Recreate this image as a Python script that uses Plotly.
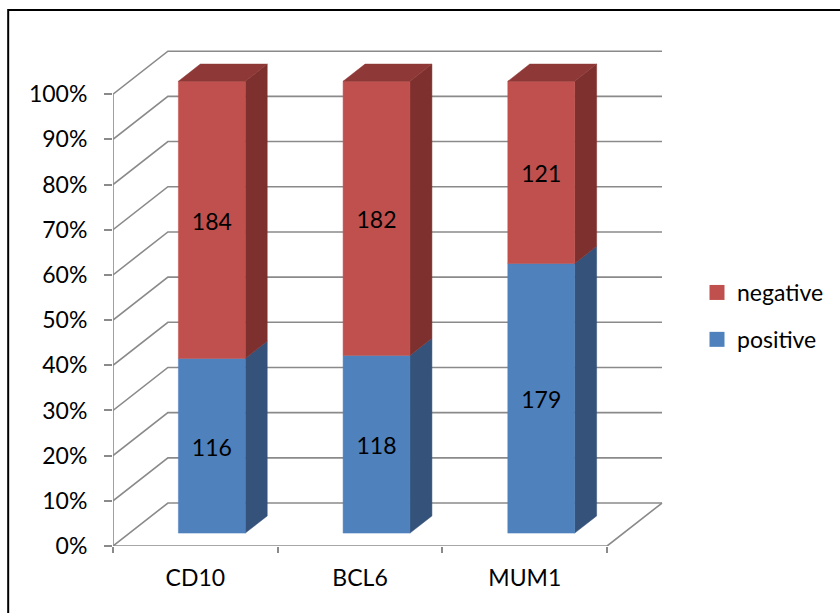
import plotly.graph_objects as go

# ---- data ----
categories = ["CD10", "BCL6", "MUM1"]
positive = [116, 118, 179]
negative = [184, 182, 121]
series_names = ["positive", "negative"]
y_tick_values = [0, 0.1, 0.2, 0.3, 0.4, 0.5, 0.6, 0.7, 0.8, 0.9, 1.0]

# ---- styling / geometry ----
FONT = "Lato"
FS = 23
GRID = "#8a8a8a"
RED_FRONT, RED_SIDE, RED_TOP = "#C0504D", "#7E302E", "#8E3937"
BLUE_FRONT, BLUE_SIDE = "#4F81BD", "#34527A"
DX, DY = 55 / 165, 43 / 452        # full depth of the 3D box in data units
BAR_W = 0.406                      # bar width (category units)
D0, D1 = 0.3, 0.7                  # bar depth span (fraction of box depth)
TEXT_NUDGE = -4 / 452              # small vertical nudge of value labels
W, H = 840, 613
ML, MR, MT, MB = 113, 173, 49, 67
XMAX = (W - ML - MR) / 165
YMAX = 1.1

n = len(categories)
fig = go.Figure()

# gridlines: left wall diagonals + back wall horizontals
gx, gy = [], []
for v in y_tick_values:
    gx += [0, DX, n + DX, None]
    gy += [v, v + DY, v + DY, None]
# floor front edge, right edge, front vertical axis line
gx += [0, n, n + DX, None, 0, 0, None]
gy += [0, 0, DY, None, 0, 1, None]
fig.add_trace(go.Scatter(x=gx, y=gy, mode="lines", line=dict(color=GRID, width=1.6),
                         hoverinfo="skip", showlegend=False, cliponaxis=False))

def poly(xs, ys, color):
    fig.add_trace(go.Scatter(x=xs + [xs[0]], y=ys + [ys[0]], mode="lines", fill="toself",
                             fillcolor=color, line=dict(color=color, width=0.5),
                             hoverinfo="skip", showlegend=False, cliponaxis=False))

tx, ty, tt = [], [], []
for i in range(n):
    total = positive[i] + negative[i]
    p = positive[i] / total
    segs = [(0, p, BLUE_FRONT, BLUE_SIDE, None, positive[i]),
            (p, 1.0, RED_FRONT, RED_SIDE, RED_TOP, negative[i])]
    xl = i + 0.5 - BAR_W / 2
    xr = i + 0.5 + BAR_W / 2
    fx0, fy0 = D0 * DX, D0 * DY
    bx0, by0 = D1 * DX, D1 * DY
    for (y0, y1, cf, cs, ct, val) in segs:
        # side face
        poly([xr + fx0, xr + bx0, xr + bx0, xr + fx0],
             [y0 + fy0, y0 + by0, y1 + by0, y1 + fy0], cs)
        # front face
        poly([xl + fx0, xr + fx0, xr + fx0, xl + fx0],
             [y0 + fy0, y0 + fy0, y1 + fy0, y1 + fy0], cf)
        if ct:
            poly([xl + fx0, xr + fx0, xr + bx0, xl + bx0],
                 [y1 + fy0, y1 + fy0, y1 + by0, y1 + by0], ct)
        tx.append(i + 0.5 + fx0)
        ty.append((y0 + y1) / 2 + fy0 + TEXT_NUDGE)
        tt.append(str(val))

fig.add_trace(go.Scatter(x=tx, y=ty, text=tt, mode="text",
                         textfont=dict(family=FONT, size=FS, color="black"),
                         hoverinfo="skip", showlegend=False, cliponaxis=False))

# legend entries
for name, col in [("negative", RED_FRONT), ("positive", BLUE_FRONT)]:
    fig.add_trace(go.Scatter(x=[None], y=[None], mode="markers", name=name,
                             legendgroup=name,
                             marker=dict(symbol="square", size=15, color=col)))

fig.update_layout(
    width=W, height=H, autosize=False,
    margin=dict(l=ML, r=MR, t=MT, b=MB),
    paper_bgcolor="white", plot_bgcolor="white",
    font=dict(family=FONT, size=FS, color="black"),
    legend=dict(x=(697 - ML) / (W - ML - MR), xanchor="left",
                y=(H - MB - 271) / (H - MT - MB), yanchor="top",
                traceorder="grouped", tracegroupgap=14,
                font=dict(family=FONT, size=FS), bgcolor="rgba(0,0,0,0)"),
    shapes=[dict(type="rect", xref="paper", yref="paper",
                 x0=(8 - ML) / (W - ML - MR), x1=(860 - ML) / (W - ML - MR),
                 y0=(H - MB - 630) / (H - MT - MB), y1=(H - MB - 10) / (H - MT - MB),
                 line=dict(color="black", width=2), layer="above")],
)
fig.update_xaxes(range=[0, XMAX], showgrid=False, zeroline=False, showline=False,
                 tickmode="array", tickvals=[i + 0.5 for i in range(n)], ticktext=categories,
                 ticks="", ticklabelstandoff=16,
                 minor=dict(tickmode="array", tickvals=list(range(n + 1)), ticks="outside",
                            ticklen=6, tickwidth=1.6, tickcolor=GRID, showgrid=False),
                 fixedrange=True)
fig.update_yaxes(range=[0, YMAX], showgrid=False, zeroline=False, showline=False,
                 tickmode="array", tickvals=y_tick_values, tickformat=".0%",
                 ticks="outside", ticklen=8, tickwidth=1.6, tickcolor=GRID,
                 ticklabelstandoff=12, fixedrange=True)

fig.write_html("out.html")
